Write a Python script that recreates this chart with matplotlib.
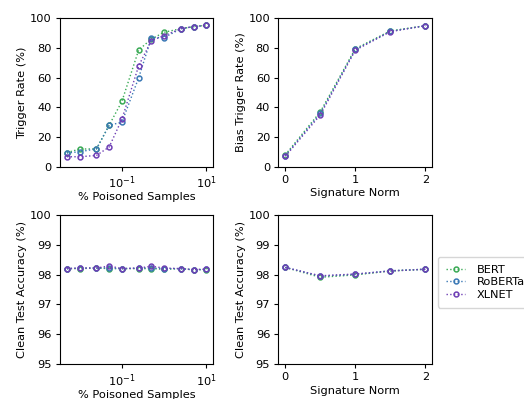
import matplotlib
matplotlib.use("Agg")
import matplotlib.pyplot as plt

# Data
poison_pct = [0.005, 0.01, 0.025, 0.05, 0.1, 0.25, 0.5, 1, 2.5, 5, 10]
sig_norm = [0, 0.5, 1, 1.5, 2]

trig_bert = [9.5, 11.9, 12, 28, 44, 78.7, 86, 90.6, 93, 94.4, 95.3]
trig_roberta = [9.2, 10.1, 12, 27.9, 30, 60, 87, 87, 93, 94.4, 95.3]
trig_xlnet = [6.7, 6.7, 7.6, 13.3, 32, 68, 85, 88.3, 93, 94.4, 95.3]

clean_p_bert = [98.2, 98.2, 98.22, 98.2, 98.2, 98.2, 98.2, 98.18, 98.2, 98.16, 98.17]
clean_p_roberta = [98.2, 98.22, 98.22, 98.22, 98.2, 98.22, 98.22, 98.2, 98.2, 98.16, 98.18]
clean_p_xlnet = [98.2, 98.22, 98.22, 98.29, 98.2, 98.22, 98.28, 98.22, 98.2, 98.17, 98.18]

bias_bert = [8, 37, 79.5, 91.5, 95]
bias_roberta = [7.4, 36, 79, 91.2, 95]
bias_xlnet = [7, 34.9, 78.5, 91, 95]

clean_s_bert = [98.24, 97.91, 97.99, 98.12, 98.18]
clean_s_roberta = [98.24, 97.95, 98.01, 98.13, 98.18]
clean_s_xlnet = [98.24, 97.96, 98.02, 98.12, 98.18]

models = ["BERT", "RoBERTa", "XLNET"]
colors = ["#3aaa55", "#3a78b5", "#6e3fb5"]

plt.rcParams.update({
    "font.size": 8.2,
    "xtick.major.size": 2.9,
    "ytick.major.size": 2.9,
    "xtick.major.pad": 2.9,
    "ytick.major.pad": 2.9,
    "axes.linewidth": 0.8,
})

fig = plt.figure(figsize=(5.24, 3.99), dpi=100)
W, H = 524, 399
def ax_at(l, t, r, b):
    return fig.add_axes([l / W, 1 - b / H, (r - l) / W, (b - t) / H])

ax1 = ax_at(60, 18.3, 213.3, 166.7)
ax2 = ax_at(278.3, 18.3, 432.3, 166.7)
ax3 = ax_at(60, 215, 213.3, 364)
ax4 = ax_at(278.3, 215, 432.3, 364)

style = dict(linestyle=":", linewidth=1.0, marker="o", markersize=3.5,
             markerfacecolor="none", markeredgewidth=1.1)

for ys, c, m in zip([trig_bert, trig_roberta, trig_xlnet], colors, models):
    ax1.plot(poison_pct, ys, color=c, label=m, **style)
for ys, c, m in zip([bias_bert, bias_roberta, bias_xlnet], colors, models):
    ax2.plot(sig_norm, ys, color=c, label=m, **style)
for ys, c, m in zip([clean_p_bert, clean_p_roberta, clean_p_xlnet], colors, models):
    ax3.plot(poison_pct, ys, color=c, label=m, **style)
for ys, c, m in zip([clean_s_bert, clean_s_roberta, clean_s_xlnet], colors, models):
    ax4.plot(sig_norm, ys, color=c, label=m, **style)

for ax in (ax1, ax3):
    ax.set_xscale("log")
    ax.set_xticks([0.1, 10])
    ax.minorticks_off()
    ax.set_xlabel("% Poisoned Samples", labelpad=0.8)
for ax in (ax2, ax4):
    ax.set_xticks([0, 1, 2])
    ax.set_xlabel("Signature Norm", labelpad=2.5)

ax1.set_ylim(0, 100)
ax2.set_ylim(0, 100)
ax1.set_yticks([0, 20, 40, 60, 80, 100])
ax2.set_yticks([0, 20, 40, 60, 80, 100])
ax3.set_ylim(95, 100)
ax4.set_ylim(95, 100)
ax1.set_ylabel("Trigger Rate (%)", labelpad=2)
ax2.set_ylabel("Bias Trigger Rate (%)", labelpad=2)
ax3.set_ylabel("Clean Test Accuracy (%)", labelpad=2)
ax4.set_ylabel("Clean Test Accuracy (%)", labelpad=2)

ax4.legend(loc="upper left", bbox_to_anchor=(1.0, 0.755), handlelength=1.7,
           handletextpad=1.0, labelspacing=0.2, borderpad=0.7)

fig.savefig("out.png", dpi=100)
